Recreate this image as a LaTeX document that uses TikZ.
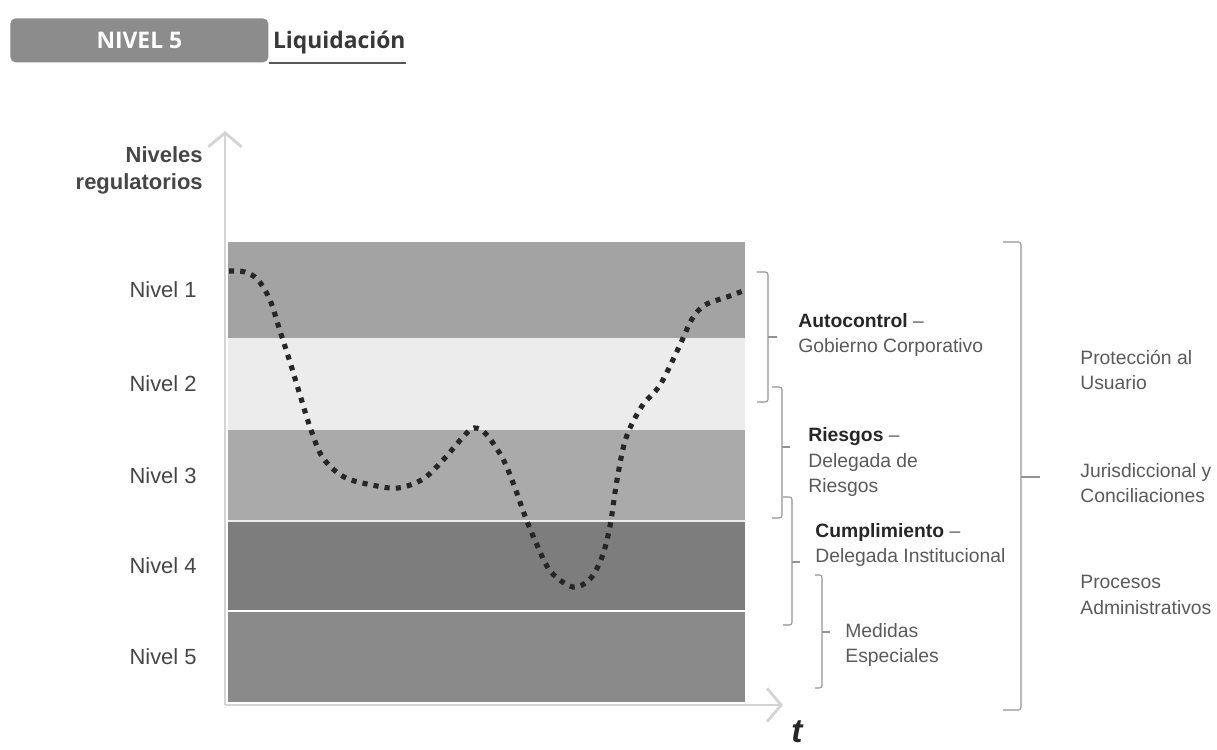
\documentclass[tikz,border=0pt]{standalone}
\usepackage{fontspec}
\setmainfont{Liberation Sans}
\newfontfamily\headfont{Open Sans}
\usetikzlibrary{positioning, arrows.meta}
\definecolor{bandone}{RGB}{163,163,163}
\definecolor{bandtwo}{RGB}{236,236,236}
\definecolor{bandthree}{RGB}{170,170,170}
\definecolor{bandfour}{RGB}{125,125,125}
\definecolor{bandfive}{RGB}{138,138,138}
\definecolor{axisgray}{RGB}{212,212,212}
\definecolor{labelgray}{RGB}{70,70,70}
\definecolor{notegray}{RGB}{90,90,90}
\definecolor{headgray}{RGB}{140,140,140}
\tikzset{
band/.style={
    draw=none,
    minimum width=10.34cm,
    inner sep=0pt,
    outer sep=0pt
},
nivel/.style={
    text=labelgray,
    inner sep=0pt,
    font=\fontsize{12.5}{15}\selectfont
},
note/.style={
    text=notegray,
    align=left,
    anchor=west,
    inner sep=0pt,
    font=\fontsize{11}{14.6}\selectfont
},
brk/.style={
    draw=gray!85,
    line width=0.6pt,
    rounded corners=1.5pt
},
axis/.style={
    draw=axisgray,
    line width=1.6pt,
    -{Straight Barb[length=8pt, width=19pt, line width=1.6pt]}
},
curva/.style={
    draw=black!85,
    line width=2.9pt,
    dash pattern=on 2.9pt off 3.5pt
}
}

\begin{document}
\begin{tikzpicture}[x=0.02cm, y=-0.02cm]
\useasboundingbox (0,0) rectangle (1217,750);

% HEADER
\node[fill=headgray, rounded corners=3pt, anchor=north west, minimum width=5.16cm,
      minimum height=0.88cm, inner sep=0pt, text=white,
      font=\headfont\bfseries\fontsize{13}{15}\selectfont] (hbox) at (10,18) {NIVEL 5};
\node[right=0.08cm of hbox, inner sep=0pt, text=black!78, yshift=-1pt,
      font=\headfont\bfseries\fontsize{13}{15}\selectfont] (htit) {Liquidación};
\draw[black!65, line width=1.1pt] (hbox.south east) -- ++(137,0);

% AXES
\coordinate (orig) at (225,705);
\coordinate (ytip) at (225,131);
\coordinate (xtip) at (783,705);
\draw[axis] (orig) -- (ytip);
\draw[axis] (orig) -- (xtip);

\node[text=labelgray, align=right, anchor=east, inner sep=0pt,
      font=\bfseries\fontsize{12.5}{15.5}\selectfont] (ylab) at (203,170) {Niveles\\regulatorios};
\node[text=black!85, inner sep=0pt,
      font=\bfseries\itshape\fontsize{19}{19}\selectfont] (tlab) at (797,732) {t};

% BANDS
\node[band, fill=bandone, minimum height=1.92cm, anchor=north west] (b1) at (228,242) {};
\node[band, fill=bandtwo, minimum height=1.84cm, below=0pt of b1] (b2) {};
\node[band, fill=bandthree, minimum height=1.82cm, below=0pt of b2] (b3) {};
\node[band, fill=bandfour, minimum height=1.80cm, below=0pt of b3] (b4) {};
\node[band, fill=bandfive, minimum height=1.82cm, below=0pt of b4] (b5) {};
\draw[white!85!gray, line width=0.8pt] (b3.south west) -- (b3.south east);
\draw[white, line width=1.3pt] (b4.south west) -- (b4.south east);

\node[nivel, left=0.62cm of b1] (n1) {Nivel 1};
\node[nivel, left=0.62cm of b2] (n2) {Nivel 2};
\node[nivel, left=0.62cm of b3] (n3) {Nivel 3};
\node[nivel, left=0.62cm of b4] (n4) {Nivel 4};
\node[nivel, left=0.62cm of b5] (n5) {Nivel 5};

% DOTTED PATH
\draw[curva] plot[smooth, tension=0.55] coordinates {
    (229,271) (245,272) (258,280) (270,300) (280,331) (290,362) (300,395)
    (311,430) (323,458) (344,477) (372,485) (398,488) (423,479) (444,459)
    (463,437) (474,428) (486,434) (503,459) (515,488) (525,516) (537,545)
    (551,572) (573,587) (590,579) (602,557) (610,526) (617,480) (626,438)
    (642,406) (660,385) (679,347) (692,319) (705,305) (727,297) (743,291)};

% BRACKETS
\draw[brk] (757,272) -- (768,272) -- (768,402) -- (757,402);
\draw[brk] (768,337) -- (777,337);
\draw[brk] (772,387) -- (782,387) -- (782,518) -- (772,518);
\draw[brk] (782,447) -- (790,447);
\draw[brk] (783,497) -- (792,497) -- (792,625) -- (783,625);
\draw[brk] (792,562) -- (800,562);
\draw[brk] (815,575) -- (822,575) -- (822,688) -- (815,688);
\draw[brk] (822,632) -- (830,632);
\draw[brk] (1003,242) -- (1021,242) -- (1021,710) -- (1003,710);
\draw[brk] (1021,477) -- (1040,477);

% TEXTS
\node[note] (auto) at (798,335) {\textbf{\color{black!85}Autocontrol} --\\Gobierno Corporativo};
\node[note] (ries) at (808,462) {\textbf{\color{black!85}Riesgos} --\\Delegada de\\Riesgos};
\node[note] (cump) at (815,545) {\textbf{\color{black!85}Cumplimiento} --\\Delegada Institucional};
\node[note] (medi) at (845,645) {Medidas\\Especiales};
\node[note] (prot) at (1080,370) {Protección al\\Usuario};
\node[note] (juri) at (1080,483) {Jurisdiccional y\\Conciliaciones};
\node[note] (proc) at (1080,595) {Procesos\\Administrativos};

\end{tikzpicture}
\end{document}
